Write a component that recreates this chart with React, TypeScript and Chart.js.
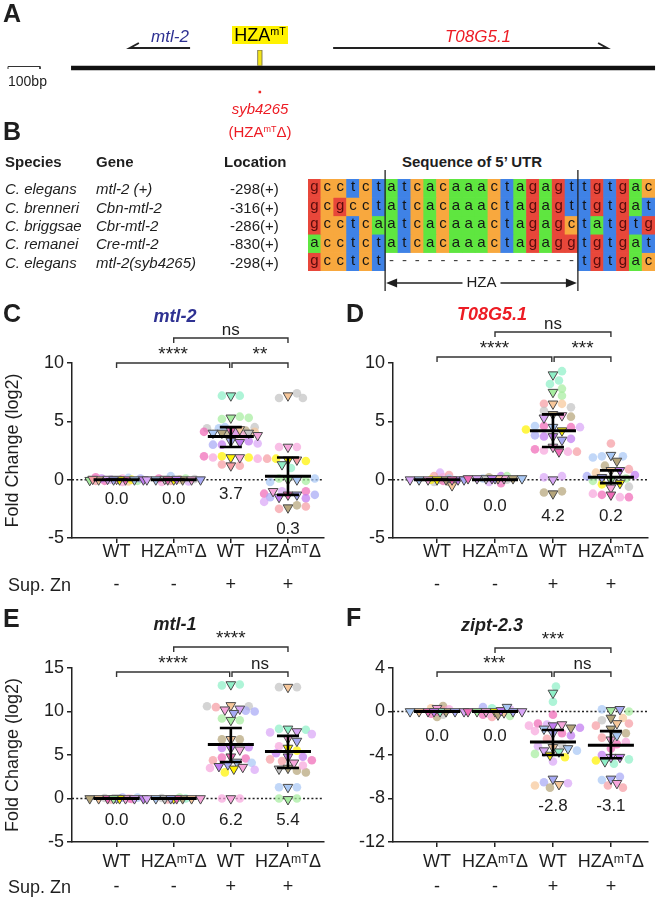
import React, { useEffect, useRef } from 'react';
import { Chart, registerables } from 'chart.js';

Chart.register(...registerables);

const FONT = '"Liberation Sans", Arial, Helvetica, sans-serif';
const INK = '#1e1e1e';

// ---------------- shared categories ----------------
const CATEGORIES = ['WT', 'HZAᵐᵀΔ', 'WT', 'HZAᵐᵀΔ'];
const SUP_ZN = ['-', '-', '+', '+'];

// replicate colours (index used in the point lists)
const PALETTE = [
  '#8ff0c8', // 0 mint
  '#f7a6dc', // 1 pink
  '#d9a6f7', // 2 lavender
  '#fff200', // 3 yellow
  '#a9c8f5', // 4 light blue
  '#c4c4c4', // 5 gray
  '#b5a57a', // 6 tan
  '#f59ca3', // 7 salmon
  '#f06ab7', // 8 hot pink
  '#f7c79a', // 9 peach
  '#c07af0', // 10 purple
  '#a6eda0', // 11 light green
  '#a7a9f5', // 12 periwinkle
];

// ---------------- panel C : mtl-2 ----------------
// [value, colourIndex]
const MTL2_TRI: [number, number][][] = [
  [[0.05, 1], [0, 8], [0.05, 2], [0, 4], [0, 9], [0, 10], [-0.05, 11], [0, 3], [0, 12], [0.05, 7]],
  [[0, 3], [0, 6], [0.05, 5], [0, 1], [0, 4], [0, 12], [0, 2], [0, 8], [0.05, 10]],
  [[7.2, 0], [5.3, 11], [4.2, 8], [4.3, 9], [4.0, 6], [4.0, 5], [4.0, 4], [3.8, 1], [3.3, 12], [3.2, 10], [1.9, 3], [1.9, 1], [1.2, 7]],
  [[7.2, 9], [2.8, 1], [1.7, 3], [1.7, 7], [1.3, 0], [0.0, 11], [0.0, 4], [-1.3, 8], [-1.3, 12], [-1.5, 10], [-2.4, 6], [-1.0, 1]],
];
const MTL2_CIRC: [number, number][][] = [
  [[0.1, 1], [-0.1, 8], [0, 2], [0.15, 4], [-0.15, 9], [0.1, 10], [-0.1, 11], [0, 3], [0.1, 12], [-0.1, 7], [-0.2, 1], [0.2, 8]],
  [[-0.2, 1], [0.3, 4], [0.1, 11], [-0.1, 7], [0, 9], [0.1, 8], [-0.15, 2], [0.05, 5]],
  [[7.2, 0], [7.2, 0], [5.4, 11], [5.2, 11], [5.3, 11], [4.5, 5], [4.4, 5], [4.5, 4], [4.4, 4], [4.1, 8], [3.9, 8], [4.1, 9], [4.2, 6], [3.9, 6], [3.8, 1], [4.0, 2], [3.0, 10], [3.3, 10], [3.0, 12], [3.1, 2], [2.0, 3], [1.9, 3], [1.9, 1], [1.8, 1], [1.2, 7], [1.3, 7], [2.0, 8]],
  [[7.4, 5], [7.0, 5], [7.0, 5], [2.8, 1], [2.8, 1], [1.8, 3], [1.6, 3], [1.8, 7], [1.0, 0], [0.1, 11], [-0.1, 11], [-0.2, 4], [0.1, 4], [-1.0, 8], [-1.2, 8], [-1.3, 12], [-1.5, 12], [-1.6, 10], [-2.2, 6], [-2.5, 7], [-2.3, 7], [-1.9, 2], [-1.0, 2]],
];
const MTL2_MEAN = [0.0, 0.0, 3.7, 0.3];
const MTL2_LOW = [0.0, 0.0, 2.8, -1.3];
const MTL2_HIGH = [0.0, 0.0, 4.5, 1.9];

// ---------------- panel D : T08G5.1 ----------------
const T08_TRI: [number, number][][] = [
  [[0, 3], [0, 6], [0, 1], [-0.5, 9], [0, 4], [0, 10], [0, 2], [0, 12], [0, 8]],
  [[0.1, 12], [0.1, 1], [0.1, 5], [0.1, 6], [0.1, 2], [0.1, 4], [0.1, 8], [0.1, 9], [0.1, 10]],
  [[9.0, 0], [7.5, 11], [6.5, 9], [5.6, 6], [5.5, 1], [5.3, 2], [4.5, 4], [4.2, 3], [3.7, 10], [3.4, 12], [2.8, 1], [2.4, 8], [0.0, 2], [-1.2, 6]],
  [[2.1, 4], [1.6, 6], [0.8, 9], [0.8, 10], [0.0, 11], [-0.3, 3], [-0.7, 1], [-1.3, 8], [0.2, 12]],
];
const T08_CIRC: [number, number][][] = [
  [[0.6, 2], [0.3, 7], [0, 11], [-0.2, 5], [0.2, 1], [-0.1, 8], [0.4, 7], [0, 3], [-0.2, 6], [0.1, 4]],
  [[0.3, 10], [-0.3, 8], [0.2, 6], [0, 1], [0.3, 11], [-0.2, 2], [0.1, 4], [0, 5]],
  [[9.3, 0], [8.5, 0], [7.8, 11], [7.2, 11], [8.2, 0], [6.5, 9], [6.5, 7], [6.2, 5], [5.9, 5], [5.4, 6], [4.6, 8], [4.5, 8], [4.6, 4], [4.5, 2], [4.3, 3], [3.7, 10], [3.5, 10], [3.8, 12], [2.5, 1], [2.4, 1], [2.6, 8], [2.4, 7], [0.3, 2], [0.2, 2], [-1.0, 6], [-1.1, 6]],
  [[3.1, 7], [2.0, 4], [2.0, 4], [1.9, 4], [1.2, 6], [0.6, 9], [0.9, 7], [0.4, 10], [0.1, 11], [-0.1, 11], [-0.4, 3], [-0.6, 5], [-1.5, 1], [-1.3, 8], [-1.5, 8], [-1.2, 1], [0.3, 12]],
];
const T08_MEAN = [0.0, 0.0, 4.2, 0.2];
const T08_LOW = [0.0, 0.0, 2.8, -0.3];
const T08_HIGH = [0.0, 0.0, 5.6, 0.8];

// ---------------- panel E : mtl-1 ----------------
const MTL1_TRI: [number, number][][] = [
  [[0.05, 12], [0, 1], [0, 8], [0, 2], [0, 9], [0, 10], [0, 6], [0, 3], [0, 11]],
  [[0, 3], [0, 6], [0, 5], [0, 9], [0, 4], [0, 1], [0, 2], [0, 8], [0, 12]],
  [[13.1, 0], [10.7, 9], [10.3, 2], [10.2, 1], [9.8, 12], [9.0, 11], [6.8, 9], [5.8, 10], [5.6, 1], [4.8, 8], [4.2, 4], [3.9, 12], [3.6, 1], [3.7, 10], [3.4, 3], [0.0, 1]],
  [[12.8, 9], [8.0, 0], [7.7, 2], [6.9, 1], [6.6, 12], [5.8, 3], [4.8, 10], [4.1, 1], [3.5, 6], [3.4, 5], [1.3, 4], [-0.1, 11]],
];
const MTL1_CIRC: [number, number][][] = [
  [[0.1, 12], [-0.1, 7], [0, 1], [0.05, 5], [-0.05, 8], [0.1, 4]],
  [[0.1, 11], [-0.1, 7], [0, 0], [0.05, 5]],
  [[13.1, 0], [13.0, 0], [10.5, 7], [10.6, 5], [10.6, 5], [10.0, 12], [10.1, 12], [9.0, 11], [9.2, 11], [6.8, 6], [6.8, 6], [5.8, 10], [5.9, 10], [4.7, 8], [4.6, 8], [4.4, 7], [4.1, 4], [3.5, 1], [3.0, 3], [3.3, 2], [0.0, 1], [0.0, 1]],
  [[12.8, 5], [12.8, 5], [8.0, 0], [7.9, 0], [7.6, 2], [7.4, 2], [5.5, 3], [6.0, 1], [5.2, 10], [4.8, 10], [4.5, 7], [4.3, 7], [4.4, 8], [3.2, 6], [3.0, 6], [3.8, 1], [1.3, 4], [1.3, 4], [0.0, 11], [0.0, 11]],
];
const MTL1_MEAN = [0.0, 0.0, 6.2, 5.4];
const MTL1_LOW = [0.0, 0.0, 4.2, 3.5];
const MTL1_HIGH = [0.0, 0.0, 8.1, 7.2];

// ---------------- panel F : zipt-2.3 ----------------
const ZIPT_TRI: [number, number][][] = [
  [[0.3, 1], [0, 6], [0, 8], [0, 12], [0, 9], [0, 2], [0, 4], [0, 0], [0, 10]],
  [[0, 3], [-0.1, 9], [0, 1], [0, 12], [0, 11], [0, 2], [0, 8], [-0.3, 6], [0.1, 10], [0.4, 4]],
  [[1.7, 0], [-1.3, 10], [-1.2, 1], [-1.6, 4], [-1.5, 6], [-2.0, 12], [-3.3, 9], [-3.7, 0], [-3.6, 2], [-3.4, 4], [-4.0, 3], [-6.2, 12], [-6.7, 9]],
  [[0.1, 11], [0.2, 12], [-0.6, 6], [-1.1, 9], [-1.6, 6], [-2.6, 1], [-2.2, 4], [-4.2, 2], [-4.2, 10], [-4.6, 0], [-6.2, 12], [-6.6, 1]],
];
const ZIPT_CIRC: [number, number][][] = [
  [[0.5, 6], [-0.5, 6], [0.3, 9], [-0.3, 5], [0.1, 7], [-0.2, 8], [0.2, 1], [0, 8]],
  [[-0.5, 7], [0.3, 0], [-0.3, 8], [0.4, 12], [-0.2, 1], [0.2, 2], [-0.4, 11]],
  [[2.3, 0], [0.9, 0], [-0.3, 8], [-1.1, 8], [-1.3, 1], [-1.5, 10], [-1.2, 2], [-1.8, 1], [-2.0, 8], [-2.5, 7], [-3.0, 5], [-3.2, 2], [-3.9, 11], [-4.2, 3], [-3.6, 4], [-4.6, 2], [-6.5, 12], [-6.6, 2], [-7.0, 6], [-6.8, 9], [-2.2, 10]],
  [[0.2, 4], [0.0, 11], [-0.8, 5], [-0.6, 9], [-1.1, 7], [-1.3, 7], [-2.4, 7], [-3.0, 8], [-2.0, 6], [-4.5, 3], [-4.8, 0], [-4.4, 0], [-4.0, 10], [-6.0, 12], [-6.3, 4], [-6.8, 7], [-7.0, 7], [-3.4, 8], [-2.8, 1]],
];
const ZIPT_MEAN = [0.0, 0.0, -2.8, -3.1];
const ZIPT_LOW = [0.0, 0.0, -4.0, -4.3];
const ZIPT_HIGH = [0.0, 0.0, -1.7, -1.8];

// significance: [fromCategory, toCategory, level(value units), label]
const MTL2_SIG: [number, number, number, string][] = [[0, 1.98, 10.0, '****'], [2.02, 3, 10.0, '**'], [1, 3, 12.14, 'ns']];
const T08_SIG: [number, number, number, string][] = [[0, 1.98, 10.51, '****'], [2.02, 3, 10.51, '***'], [1, 3, 12.66, 'ns']];
const MTL1_SIG: [number, number, number, string][] = [[0, 1.98, 14.54, '****'], [2.02, 3, 14.54, 'ns'], [1, 3, 17.41, '****']];
const ZIPT_SIG: [number, number, number, string][] = [[0, 1.98, 3.63, '***'], [2.02, 3, 3.63, 'ns'], [1, 3, 5.84, '***']];

// ---------------- panel B : alignment ----------------
const ALIGN_SEQS = [
  'gcctctatcacaaactagagttgtgac',
  'gcgcctatcacaaactagagttgtgat',
  'gcctcaatcacaaactagagctatgtg',
  'acctctatcacaaactagaggtgtgat',
  'gcctct---------------tgtgac',
];
const ALIGN_SPECIES = ['C. elegans', 'C. brenneri', 'C. briggsae', 'C. remanei', 'C. elegans'];
const ALIGN_GENES = ['mtl-2 (+)', 'Cbn-mtl-2', 'Cbr-mtl-2', 'Cre-mtl-2', 'mtl-2(syb4265)'];
const ALIGN_LOCATIONS = ['-298(+)', '-316(+)', '-286(+)', '-830(+)', '-298(+)'];
const HZA_COLUMNS = [6, 20]; // first and last aligned column of the HZA element
const BASE_COLORS: Record<string, string> = { a: '#5fe640', c: '#f8a83e', g: '#e8473a', t: '#3f82e6' };

// ---------------- panel A : locus map (bp) ----------------
const LOCUS_BP = [-3, 1822];
const MTL2_GENE_BP = [369, 181]; // start -> arrow tip
const T08_GENE_BP = [816, 1672];
const HZA_BP = 587;
const SCALE_BAR_BP = [-200, -100];

// ---------------- geometry of scatter panels (page px) ----------------
interface PanelCfg {
  left: number; top: number; width: number; height: number;
  areaLeft: number; areaTop: number; areaRight: number; areaBottom: number;
  xMin: number; xMax: number; yMin: number; yMax: number; yStep: number;
  yTitle: boolean; labelPad: number; labelLH: number;
  tri: [number, number][][]; circ: [number, number][][];
  mean: number[]; low: number[]; high: number[];
  sig: [number, number, number, string][]; meanLabelY: number[];
}

const PANELS: PanelCfg[] = [
  { left: 0, top: 290, width: 330, height: 310, areaLeft: 72, areaTop: 363, areaRight: 325, areaBottom: 538,
    xMin: -0.78, xMax: 3.62, yMin: -5, yMax: 10, yStep: 5, yTitle: true, labelPad: -7.5, labelLH: 33,
    tri: MTL2_TRI, circ: MTL2_CIRC, mean: MTL2_MEAN, low: MTL2_LOW, high: MTL2_HIGH, sig: MTL2_SIG,
    meanLabelY: [-1.71, -1.71, -1.29, -4.28] },
  { left: 330, top: 290, width: 327, height: 310, areaLeft: 393, areaTop: 363, areaRight: 648, areaBottom: 538,
    xMin: -0.76, xMax: 3.64, yMin: -5, yMax: 10, yStep: 5, yTitle: false, labelPad: -7.5, labelLH: 33,
    tri: T08_TRI, circ: T08_CIRC, mean: T08_MEAN, low: T08_LOW, high: T08_HIGH, sig: T08_SIG,
    meanLabelY: [-2.3, -2.3, -3.17, -3.17] },
  { left: 0, top: 600, width: 330, height: 299, areaLeft: 72, areaTop: 668, areaRight: 325, areaBottom: 842,
    xMin: -0.78, xMax: 3.62, yMin: -5, yMax: 15, yStep: 5, yTitle: true, labelPad: 2.5, labelLH: 25,
    tri: MTL1_TRI, circ: MTL1_CIRC, mean: MTL1_MEAN, low: MTL1_LOW, high: MTL1_HIGH, sig: MTL1_SIG,
    meanLabelY: [-2.53, -2.53, -2.53, -2.53] },
  { left: 330, top: 600, width: 327, height: 299, areaLeft: 393, areaTop: 668, areaRight: 648, areaBottom: 842,
    xMin: -0.76, xMax: 3.64, yMin: -12, yMax: 4, yStep: 4, yTitle: false, labelPad: 2.5, labelLH: 25,
    tri: ZIPT_TRI, circ: ZIPT_CIRC, mean: ZIPT_MEAN, low: ZIPT_LOW, high: ZIPT_HIGH, sig: ZIPT_SIG,
    meanLabelY: [-2.3, -2.3, -8.74, -8.74] },
];

function withAlpha(hex: string, a: number) {
  const n = parseInt(hex.slice(1), 16);
  return `rgba(${(n >> 16) & 255},${(n >> 8) & 255},${n & 255},${a})`;
}

// deterministic beeswarm: offsets (category units) for values, processed in order
function swarmOffsets(vals: number[], pxY: number, pxX: number) {
  const placed: { x: number; y: number }[] = [];
  const out: number[] = [];
  const D = 7, STEP = 3, MAXO = 27;
  for (const v of vals) {
    const y = v * pxY;
    let best = 0, bestScore = -1;
    for (let k = 0; k < 60; k++) {
      const c = k === 0 ? 0 : (k % 2 ? 1 : -1) * Math.ceil(k / 2) * STEP;
      if (Math.abs(c) > MAXO) break;
      let md = Infinity;
      for (const q of placed) {
        const d = Math.hypot(q.x - c, q.y - y);
        if (d < md) md = d;
      }
      if (md >= D) { best = c; bestScore = md; break; }
      if (md > bestScore) { bestScore = md; best = c; }
    }
    placed.push({ x: best, y });
    out.push(best / pxX);
  }
  return out;
}

function makePanel(canvas: HTMLCanvasElement, cfg: PanelCfg) {
  const pxX = (cfg.areaRight - cfg.areaLeft) / (cfg.xMax - cfg.xMin);
  const pxY = (cfg.areaBottom - cfg.areaTop) / (cfg.yMax - cfg.yMin);
  const triData: any[] = [], triCol: string[] = [];
  const cirData: any[] = [], cirCol: string[] = [];
  for (let g = 0; g < 4; g++) {
    const pts = [
      ...cfg.tri[g].map((p) => ({ v: p[0], c: p[1], tri: true })),
      ...cfg.circ[g].map((p) => ({ v: p[0], c: p[1], tri: false })),
    ];
    const offs = swarmOffsets(pts.map((p) => p.v), pxY, pxX);
    pts.forEach((p, i) => {
      const d = { x: g + offs[i], y: p.v };
      if (p.tri) { triData.push(d); triCol.push(PALETTE[p.c]); }
      else { cirData.push(d); cirCol.push(withAlpha(PALETTE[p.c], 0.72)); }
    });
  }

  const deco = {
    id: 'deco',
    beforeDatasetsDraw(chart: any) {
      const { ctx, chartArea, scales } = chart;
      const y0 = scales.y.getPixelForValue(0);
      ctx.save();
      ctx.strokeStyle = '#222';
      ctx.lineWidth = 1.5;
      ctx.setLineDash([2, 2.2]);
      ctx.beginPath();
      ctx.moveTo(chartArea.left, y0);
      ctx.lineTo(chartArea.right, y0);
      ctx.stroke();
      ctx.restore();
    },
    afterDatasetsDraw(chart: any) {
      const { ctx, scales } = chart;
      const xs = scales.x, ys = scales.y;
      ctx.save();
      ctx.strokeStyle = '#000';
      ctx.lineCap = 'butt';
      for (let g = 0; g < 4; g++) {
        const cx = xs.getPixelForValue(g);
        const ym = ys.getPixelForValue(cfg.mean[g]);
        const yl = ys.getPixelForValue(cfg.low[g]);
        const yh = ys.getPixelForValue(cfg.high[g]);
        ctx.lineWidth = 3;
        ctx.beginPath(); ctx.moveTo(cx - 23, ym); ctx.lineTo(cx + 23, ym); ctx.stroke();
        ctx.lineWidth = 2.6;
        ctx.beginPath();
        ctx.moveTo(cx, yl); ctx.lineTo(cx, yh);
        ctx.moveTo(cx - 11, yl); ctx.lineTo(cx + 11, yl);
        ctx.moveTo(cx - 11, yh); ctx.lineTo(cx + 11, yh);
        ctx.stroke();
      }
      ctx.fillStyle = INK;
      ctx.font = `17px ${FONT}`;
      ctx.textAlign = 'center';
      ctx.textBaseline = 'middle';
      for (let g = 0; g < 4; g++) {
        ctx.fillText(cfg.mean[g].toFixed(1), xs.getPixelForValue(g), ys.getPixelForValue(cfg.meanLabelY[g]));
      }
      ctx.restore();
    },
    afterDraw(chart: any) {
      const { ctx, scales } = chart;
      const xs = scales.x, ys = scales.y;
      ctx.save();
      ctx.strokeStyle = '#333';
      ctx.lineWidth = 1.4;
      ctx.fillStyle = INK;
      ctx.textAlign = 'center';
      ctx.textBaseline = 'alphabetic';
      for (const b of cfg.sig) {
        const x1 = xs.getPixelForValue(b[0]);
        const x2 = xs.getPixelForValue(b[1]);
        const y = ys.getPixelForValue(b[2]);
        ctx.beginPath();
        ctx.moveTo(x1, y + 5); ctx.lineTo(x1, y); ctx.lineTo(x2, y); ctx.lineTo(x2, y + 5);
        ctx.stroke();
        const isStar = b[3].indexOf('*') >= 0;
        ctx.font = isStar ? `19px ${FONT}` : `17px ${FONT}`;
        ctx.fillText(b[3], (x1 + x2) / 2, y - 3);
      }
      ctx.restore();
    },
  };

  const axisColor = '#222';
  return new Chart(canvas, {
    type: 'scatter',
    data: {
      datasets: [
        { data: triData, pointStyle: 'triangle', rotation: 180, pointRadius: 5.6, pointBackgroundColor: triCol,
          pointBorderColor: '#4a4a4a', pointBorderWidth: 1, order: 0 } as any,
        { data: cirData, pointStyle: 'circle', pointRadius: 4.3, pointBackgroundColor: cirCol,
          pointBorderWidth: 0, order: 1 } as any,
      ],
    },
    options: {
      responsive: false,
      animation: false,
      events: [],
      layout: { padding: { left: 0, right: cfg.left + cfg.width - cfg.areaRight, top: cfg.areaTop - cfg.top, bottom: 0 } },
      plugins: { legend: { display: false }, tooltip: { enabled: false } },
      scales: {
        x: {
          type: 'linear', min: cfg.xMin, max: cfg.xMax,
          afterBuildTicks: (s: any) => { s.ticks = [0, 1, 2, 3].map((v) => ({ value: v })); },
          afterFit: (s: any) => { s.height = cfg.top + cfg.height - cfg.areaBottom; },
          ticks: {
            callback: (_v: any, i: number) => [CATEGORIES[i], SUP_ZN[i]],
            font: { family: FONT, size: 18, lineHeight: `${cfg.labelLH}px` } as any,
            color: INK, padding: cfg.labelPad, maxRotation: 0, autoSkip: false,
          },
          grid: { drawOnChartArea: false, tickLength: 5, color: axisColor, lineWidth: 1.5 },
          border: { color: axisColor, width: 1.5 },
        },
        y: {
          type: 'linear', min: cfg.yMin, max: cfg.yMax,
          afterFit: (s: any) => { s.width = cfg.areaLeft - cfg.left; },
          ticks: { stepSize: cfg.yStep, font: { family: FONT, size: 18 }, color: INK, padding: 3 },
          grid: { drawOnChartArea: false, tickLength: 5, color: axisColor, lineWidth: 1.5 },
          border: { color: axisColor, width: 1.5 },
          title: { display: cfg.yTitle, text: 'Fold Change (log2)', font: { family: FONT, size: 18 }, color: INK,
            padding: { top: 2, bottom: 0 } },
        },
      },
    } as any,
    plugins: [deco],
  });
}

function makeAlignment(canvas: HTMLCanvasElement) {
  const labels = ALIGN_SEQS[0].split('').map((_, i) => String(i));
  const datasets = ALIGN_SEQS.map((seq, r) => ({
    data: seq.split('').map((ch) => (ch === '-' ? null : [r, r + 1])),
    backgroundColor: seq.split('').map((ch) => BASE_COLORS[ch] || '#ffffff'),
    borderWidth: 0,
    grouped: false,
    barPercentage: 1,
    categoryPercentage: 1,
  }));
  const letters = {
    id: 'letters',
    afterDatasetsDraw(chart: any) {
      const { ctx, scales } = chart;
      const xs = scales.x, ys = scales.y;
      ctx.save();
      ctx.font = `15px ${FONT}`;
      ctx.textAlign = 'center';
      ctx.textBaseline = 'middle';
      ALIGN_SEQS.forEach((seq, r) => {
        seq.split('').forEach((ch, i) => {
          ctx.fillStyle = ch === 'g' ? '#5a0c0c' : ch === '-' ? '#444' : '#151515';
          ctx.fillText(ch, xs.getPixelForValue(i), ys.getPixelForValue(r + 0.5) - 1);
        });
      });
      // HZA boundaries
      const xL = (xs.getPixelForValue(HZA_COLUMNS[0] - 1) + xs.getPixelForValue(HZA_COLUMNS[0])) / 2;
      const xR = (xs.getPixelForValue(HZA_COLUMNS[1]) + xs.getPixelForValue(HZA_COLUMNS[1] + 1)) / 2;
      ctx.strokeStyle = '#222';
      ctx.lineWidth = 1.3;
      ctx.beginPath();
      ctx.moveTo(xL, 5); ctx.lineTo(xL, 126);
      ctx.moveTo(xR, 5); ctx.lineTo(xR, 126);
      ctx.stroke();
      const ay = 118;
      const mid = (xL + xR) / 2;
      ctx.font = `15px ${FONT}`;
      const tw = ctx.measureText('HZA').width;
      ctx.fillStyle = INK;
      ctx.fillText('HZA', mid, ay);
      ctx.lineWidth = 1.6;
      ctx.beginPath();
      ctx.moveTo(xL + 6, ay); ctx.lineTo(mid - tw / 2 - 4, ay);
      ctx.moveTo(mid + tw / 2 + 4, ay); ctx.lineTo(xR - 6, ay);
      ctx.stroke();
      ctx.beginPath();
      ctx.moveTo(xL + 1, ay); ctx.lineTo(xL + 12, ay - 4.5); ctx.lineTo(xL + 12, ay + 4.5); ctx.closePath();
      ctx.moveTo(xR - 1, ay); ctx.lineTo(xR - 12, ay - 4.5); ctx.lineTo(xR - 12, ay + 4.5); ctx.closePath();
      ctx.fill();
      ctx.restore();
    },
  };
  return new Chart(canvas, {
    type: 'bar',
    data: { labels, datasets: datasets as any },
    options: {
      responsive: false,
      animation: false,
      events: [],
      layout: { padding: { left: 8, right: 2, top: 14, bottom: 24 } },
      plugins: { legend: { display: false }, tooltip: { enabled: false } },
      scales: {
        x: { display: false },
        y: { display: false, min: 0, max: 5, reverse: true },
      },
    } as any,
    plugins: [letters],
  });
}

function makeLocus(canvas: HTMLCanvasElement) {
  const seg = (pts: { x: number; y: number }[], color: string, width: number, order: number) => ({
    data: pts, showLine: true, borderColor: color, borderWidth: width, pointRadius: 0,
    borderCapStyle: 'butt', borderJoinStyle: 'miter', fill: false, order,
  });
  const barb = 28;
  const datasets = [
    seg([{ x: LOCUS_BP[0], y: 0 }, { x: LOCUS_BP[1], y: 0 }], '#111', 4.5, 3),
    seg([{ x: MTL2_GENE_BP[0], y: 1 }, { x: MTL2_GENE_BP[1], y: 1 }, { x: MTL2_GENE_BP[1] + barb, y: 1.25 }], '#222', 2, 3),
    seg([{ x: T08_GENE_BP[0], y: 1 }, { x: T08_GENE_BP[1], y: 1 }, { x: T08_GENE_BP[1] - barb, y: 1.25 }], '#222', 2, 3),
    seg([{ x: HZA_BP, y: 0.11 }, { x: HZA_BP, y: 0.9 }], '#7a7448', 5.2, 2),
    seg([{ x: HZA_BP, y: 0.14 }, { x: HZA_BP, y: 0.87 }], '#f2e419', 3.4, 1),
    seg([{ x: HZA_BP - 4, y: -1.2 }, { x: HZA_BP + 4, y: -1.2 }], '#ee2a2a', 2.5, 3),
    seg([{ x: SCALE_BAR_BP[0], y: -0.05 }, { x: SCALE_BAR_BP[0], y: 0.075 }, { x: SCALE_BAR_BP[1], y: 0.075 }, { x: SCALE_BAR_BP[1], y: -0.05 }], '#333', 1, 3),
  ];
  return new Chart(canvas, {
    type: 'scatter',
    data: { datasets: datasets as any },
    options: {
      responsive: false,
      animation: false,
      events: [],
      layout: { padding: 0 },
      plugins: { legend: { display: false }, tooltip: { enabled: false } },
      scales: {
        x: { display: false, type: 'linear', min: -225, max: 1828.1 },
        y: { display: false, type: 'linear', min: -2.6, max: 3.4 },
      },
    } as any,
  });
}

function ChartCanvas(props: { left: number; top: number; width: number; height: number; make: (c: HTMLCanvasElement) => Chart }) {
  const ref = useRef<HTMLCanvasElement>(null);
  useEffect(() => {
    const chart = props.make(ref.current as HTMLCanvasElement);
    return () => chart.destroy();
  }, []);
  return (
    <canvas
      ref={ref}
      width={props.width}
      height={props.height}
      style={{ position: 'absolute', left: props.left, top: props.top, width: props.width, height: props.height }}
    />
  );
}

function Txt(props: { x: number; y: number; center?: boolean; style?: any; children: any }) {
  return (
    <div
      style={{
        position: 'absolute', left: props.x, top: props.y, whiteSpace: 'nowrap', lineHeight: 1,
        transform: props.center ? 'translate(-50%,-50%)' : 'translateY(-50%)', ...props.style,
      }}
    >
      {props.children}
    </div>
  );
}

const letterStyle = { fontWeight: 'bold', fontSize: 25 };
const supStyle = { fontSize: '0.6em', verticalAlign: '0.55em', lineHeight: 0 };

export default function App() {
  const rowY = (r: number) => 179 + 18.4 * (r + 0.5);
  return (
    <div style={{ position: 'absolute', left: 0, top: 0, width: 657, height: 899, background: '#fff', fontFamily: FONT, color: INK, overflow: 'hidden' }}>
      {/* Panel A */}
      <ChartCanvas left={0} top={0} width={657} height={120} make={makeLocus} />
      <Txt x={3} y={13} style={letterStyle}>A</Txt>
      <Txt x={170} y={36} center style={{ fontStyle: 'italic', fontSize: 17, color: '#2e3192' }}>mtl-2</Txt>
      <div style={{ position: 'absolute', left: 232, top: 26, width: 56, height: 18, background: '#fff200' }} />
      <Txt x={260} y={35} center style={{ fontSize: 18, color: '#000' }}>HZA<span style={supStyle}>mT</span></Txt>
      <Txt x={478} y={36} center style={{ fontStyle: 'italic', fontSize: 17, color: '#ed1c24' }}>T08G5.1</Txt>
      <Txt x={8} y={81} style={{ fontSize: 14 }}>100bp</Txt>
      <Txt x={260} y={108} center style={{ fontStyle: 'italic', fontSize: 15, color: '#ed1c24' }}>syb4265</Txt>
      <Txt x={260} y={131} center style={{ fontSize: 15, color: '#ed1c24' }}>(HZA<span style={supStyle}>mT</span>Δ)</Txt>

      {/* Panel B */}
      <Txt x={3} y={131} style={letterStyle}>B</Txt>
      <Txt x={5} y={161} style={{ fontWeight: 'bold', fontSize: 15 }}>Species</Txt>
      <Txt x={96} y={161} style={{ fontWeight: 'bold', fontSize: 15 }}>Gene</Txt>
      <Txt x={224} y={161} style={{ fontWeight: 'bold', fontSize: 15 }}>Location</Txt>
      <Txt x={472} y={161} center style={{ fontWeight: 'bold', fontSize: 15 }}>Sequence of 5’ UTR</Txt>
      {ALIGN_SPECIES.map((s, r) => (
        <Txt key={'s' + r} x={5} y={rowY(r)} style={{ fontStyle: 'italic', fontSize: 15 }}>{s}</Txt>
      ))}
      {ALIGN_GENES.map((s, r) => (
        <Txt key={'g' + r} x={96} y={rowY(r)} style={{ fontStyle: 'italic', fontSize: 15 }}>{s}</Txt>
      ))}
      {ALIGN_LOCATIONS.map((s, r) => (
        <Txt key={'l' + r} x={230} y={rowY(r)} style={{ fontSize: 15 }}>{s}</Txt>
      ))}
      <ChartCanvas left={300} top={165} width={357} height={130} make={makeAlignment} />

      {/* Panels C-F */}
      {PANELS.map((p, i) => (
        <ChartCanvas key={'p' + i} left={p.left} top={p.top} width={p.width} height={p.height} make={(c) => makePanel(c, p)} />
      ))}
      <Txt x={3} y={313} style={letterStyle}>C</Txt>
      <Txt x={346} y={313} style={letterStyle}>D</Txt>
      <Txt x={3} y={618} style={letterStyle}>E</Txt>
      <Txt x={346} y={617} style={letterStyle}>F</Txt>
      <Txt x={175} y={316} center style={{ fontWeight: 'bold', fontStyle: 'italic', fontSize: 18, color: '#2e3192' }}>mtl-2</Txt>
      <Txt x={492} y={314} center style={{ fontWeight: 'bold', fontStyle: 'italic', fontSize: 18, color: '#ed1c24' }}>T08G5.1</Txt>
      <Txt x={175} y={624} center style={{ fontWeight: 'bold', fontStyle: 'italic', fontSize: 18 }}>mtl-1</Txt>
      <Txt x={492} y={625} center style={{ fontWeight: 'bold', fontStyle: 'italic', fontSize: 18 }}>zipt-2.3</Txt>
      <Txt x={8} y={585} style={{ fontSize: 18 }}>Sup. Zn</Txt>
      <Txt x={8} y={887} style={{ fontSize: 18 }}>Sup. Zn</Txt>
    </div>
  );
}
